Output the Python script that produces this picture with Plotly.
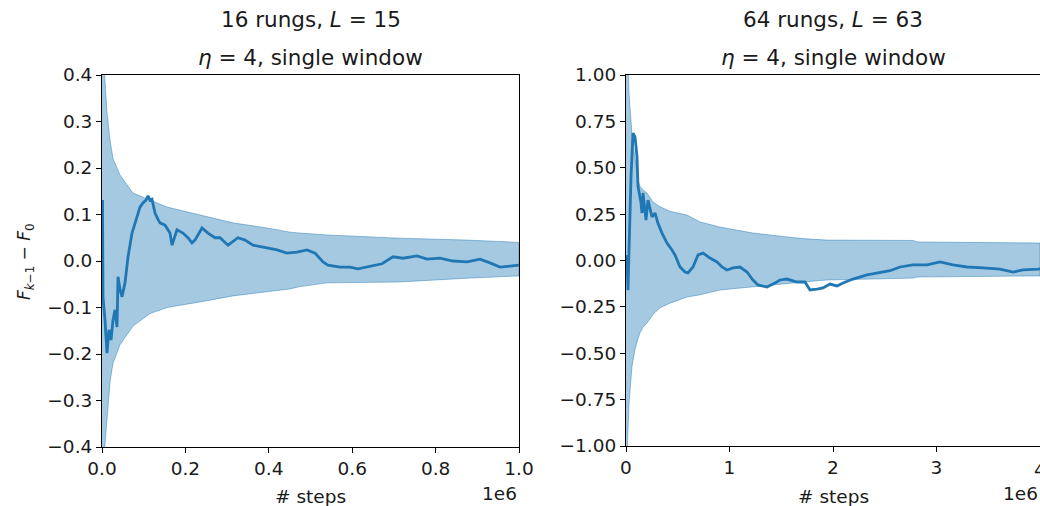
import plotly.graph_objects as go

# ---------------- data ----------------
# Left panel: 16 rungs, L = 15
left_steps = [1200, 2400, 7200, 12000, 16800, 21600, 26400, 31200, 36000, 38400,
              43000, 48000, 55200, 62400, 72000, 84000, 91100, 98300, 105500, 110300,
              115100, 119900, 127100, 134000, 139100, 151100, 163100, 167900, 175000, 179900,
              194200, 206000, 215800, 223000, 239800, 254200, 271000, 283000, 302200, 326100,
              343000, 362100, 395700, 419700, 443600, 467600, 491600, 510800, 530000, 542000,
              570700, 594700, 613900, 635500, 671500, 697800, 721800, 755400, 779400, 810600,
              841700, 875300, 906500, 930500, 954400, 978400, 1000000]
left_dF = [0.131, -0.077, -0.127, -0.198, -0.148, -0.17, -0.127, -0.105, -0.142, -0.034,
           -0.06, -0.077, -0.047, 0.009, 0.06, 0.095, 0.116, 0.125, 0.131, 0.14,
           0.131, 0.133, 0.103, 0.09, 0.082, 0.077, 0.06, 0.034, 0.055, 0.067,
           0.06, 0.05, 0.039, 0.045, 0.071, 0.06, 0.05, 0.05, 0.034, 0.05,
           0.045, 0.034, 0.028, 0.024, 0.017, 0.019, 0.024, 0.017, -0.002, -0.009,
           -0.013, -0.013, -0.017, -0.013, -0.006, 0.009, 0.006, 0.011, 0.004, 0.006,
           0.0, -0.002, 0.004, -0.004, -0.013, -0.011, -0.009]
left_band_steps = [0, 1500, 4800, 12000, 19200, 26400, 43200, 74300, 115100, 155900,
                   235000, 314100, 395700, 450800, 474800, 539600, 714600, 875300, 1000000]
left_band_upper = [1.0, 0.6, 0.42, 0.32, 0.26, 0.22, 0.185, 0.146, 0.131, 0.116,
                   0.099, 0.082, 0.071, 0.062, 0.06, 0.056, 0.049, 0.045, 0.04]
left_band_lower = [-1.0, -0.6, -0.42, -0.33, -0.26, -0.22, -0.18, -0.14, -0.113, -0.1,
                   -0.088, -0.075, -0.066, -0.06, -0.055, -0.047, -0.045, -0.037, -0.032]

# Right panel: 64 rungs, L = 63
right_steps = [9700, 19300, 29000, 48300, 67600, 87000, 106300, 116000, 145000, 154600,
               164300, 193200, 212600, 251200, 280200, 309200, 347800, 396100, 444500, 473400,
               521700, 570100, 599000, 647400, 695700, 744000, 811600, 879200, 927600, 975900,
               1033800, 1101500, 1169100, 1227100, 1275400, 1362400, 1439600, 1488000, 1555600, 1652200,
               1729500, 1777800, 1845400, 1903400, 1971000, 2038700, 2096700, 2193300, 2328600, 2454100,
               2550800, 2647400, 2773000, 2908300, 3033900, 3159500, 3294700, 3449300, 3613600, 3739200,
               3835800, 3980700, 4000000]
right_dF = [0.03, -0.16, 0.05, 0.45, 0.687, 0.666, 0.56, 0.40, 0.31, 0.256,
            0.364, 0.218, 0.326, 0.235, 0.256, 0.2, 0.148, 0.094, 0.057, 0.03,
            -0.035, -0.062, -0.067, -0.035, 0.03, 0.04, 0.013, -0.008, -0.035, -0.051,
            -0.04, -0.035, -0.062, -0.105, -0.132, -0.143, -0.121, -0.105, -0.1, -0.116,
            -0.116, -0.159, -0.154, -0.148, -0.127, -0.137, -0.121, -0.1, -0.078, -0.067,
            -0.055, -0.035, -0.024, -0.024, -0.008, -0.024, -0.035, -0.04, -0.046, -0.062,
            -0.051, -0.046, -0.045]
right_band_steps = [0, 9700, 29000, 58000, 87000, 116000, 135300, 164300, 202900, 260900,
                    328500, 425100, 589400, 715000, 908200, 1227100, 1555600, 1710000, 1942000, 2357000,
                    2773000, 2811600, 4000000]
right_band_upper = [1.6, 1.2, 0.9, 0.68, 0.55, 0.43, 0.40, 0.38, 0.364, 0.316,
                    0.29, 0.265, 0.245, 0.208, 0.18, 0.148, 0.127, 0.118, 0.11, 0.11,
                    0.108, 0.1, 0.094]
right_band_lower = [-1.6, -1.05, -0.77, -0.57, -0.48, -0.42, -0.39, -0.36, -0.337, -0.29,
                    -0.255, -0.23, -0.197, -0.185, -0.159, -0.143, -0.125, -0.116, -0.105, -0.1,
                    -0.095, -0.089, -0.083]

left_xticks = [0, 200000, 400000, 600000, 800000, 1000000]
left_xticklabels = ["0.0", "0.2", "0.4", "0.6", "0.8", "1.0"]
left_yticks = [-0.4, -0.3, -0.2, -0.1, 0.0, 0.1, 0.2, 0.3, 0.4]
left_yticklabels = ["\u22120.4", "\u22120.3", "\u22120.2", "\u22120.1", "0.0", "0.1", "0.2", "0.3", "0.4"]
right_xticks = [0, 1000000, 2000000, 3000000, 4000000]
right_xticklabels = ["0", "1", "2", "3", "4"]
right_yticks = [-1.0, -0.75, -0.5, -0.25, 0.0, 0.25, 0.5, 0.75, 1.0]
right_yticklabels = ["\u22121.00", "\u22120.75", "\u22120.50", "\u22120.25", "0.00", "0.25", "0.50", "0.75", "1.00"]

# ---------------- styling ----------------
W, H = 1040, 506
LINE_C = "#1f77b4"
BAND_C = "rgba(31,119,180,0.4)"
FONT = "DejaVu Sans"
TXT_C = "#1a1a1a"
TICK_SIZE = 18.5

def px_x(p):
    return p / W

def px_y(p):
    return 1 - p / H

fig = go.Figure()

def add_panel(xs, ys, bx, bu, bl, xa, ya):
    fig.add_trace(go.Scatter(
        x=list(bx) + list(bx)[::-1], y=list(bu) + list(bl)[::-1],
        fill="toself", fillcolor=BAND_C, mode="lines",
        line=dict(color="rgba(31,119,180,0.45)", width=1),
        xaxis=xa, yaxis=ya, hoverinfo="skip", showlegend=False))
    fig.add_trace(go.Scatter(
        x=xs, y=ys, mode="lines", line=dict(color=LINE_C, width=2.8),
        xaxis=xa, yaxis=ya, showlegend=False))

add_panel(left_steps, left_dF, left_band_steps, left_band_upper, left_band_lower, "x", "y")
add_panel(right_steps, right_dF, right_band_steps, right_band_upper, right_band_lower, "x2", "y2")

axis_common = dict(showline=True, linecolor="black", linewidth=1, mirror=True,
                   ticks="outside", ticklen=5, tickwidth=1, tickcolor="black",
                   showgrid=False, zeroline=False, automargin=False,
                   tickfont=dict(family=FONT, size=TICK_SIZE, color=TXT_C))

fig.update_layout(
    width=W, height=H, margin=dict(l=0, r=0, t=0, b=0, autoexpand=False),
    paper_bgcolor="white", plot_bgcolor="white",
    xaxis=dict(domain=[px_x(102), px_x(519)], range=[0, 1000000], anchor="y",
               tickmode="array", tickvals=left_xticks, ticktext=left_xticklabels, **axis_common),
    yaxis=dict(domain=[px_y(447), px_y(75)], range=[-0.4, 0.4], anchor="x",
               tickmode="array", tickvals=left_yticks, ticktext=left_yticklabels, **axis_common),
    xaxis2=dict(domain=[px_x(626), 1.0], range=[0, 4000000], anchor="y2",
                tickmode="array", tickvals=right_xticks, ticktext=right_xticklabels, **axis_common),
    yaxis2=dict(domain=[px_y(446), px_y(75)], range=[-1.0, 1.0], anchor="x2",
                tickmode="array", tickvals=right_yticks, ticktext=right_yticklabels, **axis_common),
)

def ann(text, x, y, size, xanchor="center", angle=0):
    fig.add_annotation(text=text, x=px_x(x), y=px_y(y), xref="paper", yref="paper",
                       xanchor=xanchor, yanchor="middle", showarrow=False, textangle=angle,
                       font=dict(family=FONT, size=size, color=TXT_C))

# titles
ann("16 rungs, <i>L</i> = 15", 311, 19, 21.5)
ann("<i>\u03b7</i> = 4, single window", 310, 57, 21.5)
ann("64 rungs, <i>L</i> = 63", 833, 19, 21.5)
ann("<i>\u03b7</i> = 4, single window", 833, 57, 21.5)
# axis labels
ann("# steps", 310, 496, 18.5)
ann("# steps", 833, 496, 18.5)
ann("1e6", 519, 493, 18.5, xanchor="right")
ann("1e6", 1040, 493, 18.5, xanchor="right")
ann("<i>F</i><sub><i>k</i>\u22121</sub> \u2212 <i>F</i><sub>0</sub>", 25, 262, 17, angle=-90)
# last x tick label of the right panel sits on the page edge (cut off in the reference)
fig.add_annotation(text=right_xticklabels[-1], x=right_xticks[-1], y=px_y(469), xref="x2", yref="paper",
                   xanchor="center", yanchor="middle", showarrow=False,
                   font=dict(family=FONT, size=TICK_SIZE, color=TXT_C))

fig.write_html("out.html")
